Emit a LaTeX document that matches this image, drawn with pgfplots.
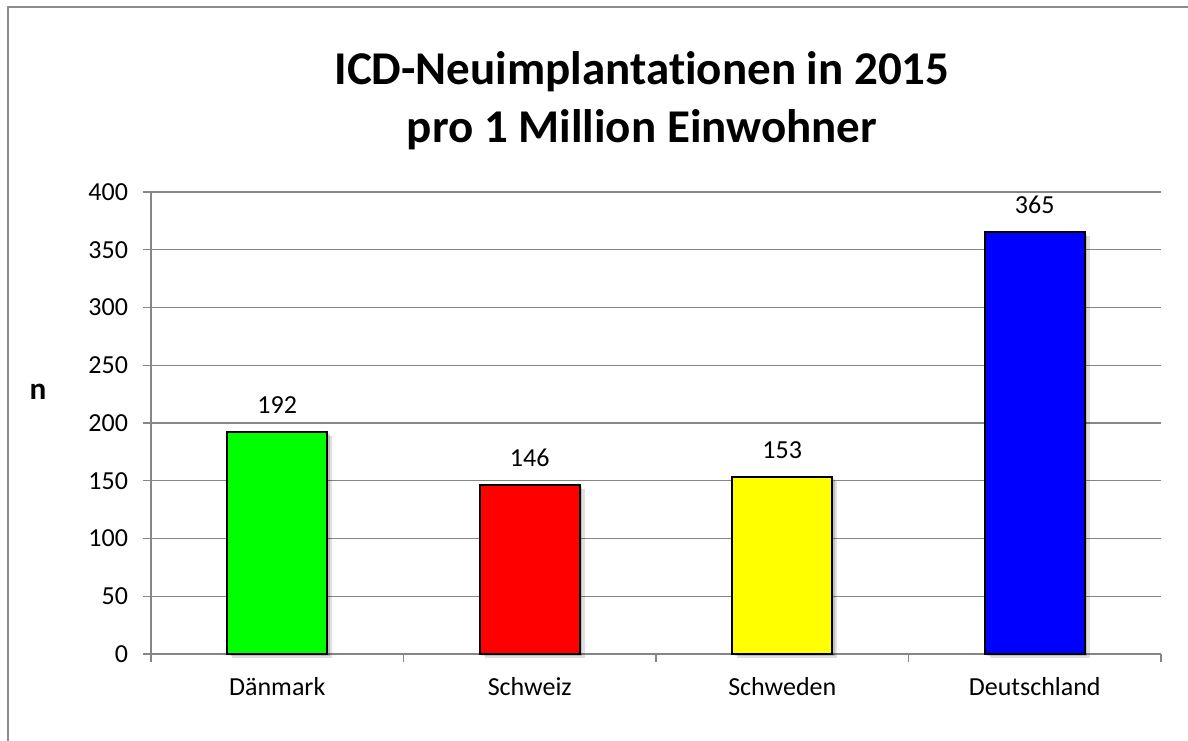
\documentclass[border=0pt]{standalone}
\usepackage{pgfplots}
\pgfplotsset{compat=1.18}
\usepackage{fontspec}
\setmainfont{Carlito}[Ligatures=NoCommon]
\definecolor{gridgray}{RGB}{134,134,134}
\definecolor{framegray}{RGB}{140,140,140}
\begin{document}
\begin{tikzpicture}
\path[use as bounding box] (0,0) rectangle (594pt,370pt);
\draw[framegray, line width=0.8pt] (4pt,-1pt) -- (4pt,366.5pt) -- (595pt,366.5pt);
\node[anchor=base, font=\fontsize{23.5}{28}\bfseries\selectfont] at (321pt,327.5pt) {ICD-Neuimplantationen in 2015};
\node[anchor=base, font=\fontsize{23.5}{28}\bfseries\selectfont] at (321pt,298.5pt) {pro 1 Million Einwohner};
\node[font=\fontsize{15.6}{18}\bfseries\selectfont] at (19pt,174pt) {n};
\begin{axis}[
  at={(75.5pt,43pt)}, anchor=south west,
  scale only axis, width=505pt, height=231pt,
  xmin=-0.5, xmax=3.5, ymin=0, ymax=400,
  axis lines=left, axis line style={-, gridgray, line width=0.7pt},
  ytick={0,50,...,400},
  xtick={0,1,2,3},
  xticklabels={Dänmark,Schweiz,Schweden,Deutschland},
  minor xtick={-0.5,0.5,1.5,2.5,3.5},
  major x tick style={draw=none},
  tick align=outside,
  major tick length=4pt, minor tick length=4pt,
  tick style={gridgray, line width=0.7pt},
  ymajorgrids, grid style={gridgray, line width=0.7pt},
  /pgf/number format/assume math mode=true,
  ticklabel style={font=\fontsize{13}{15}\selectfont},
  yticklabel style={xshift=-4pt},
  xticklabel style={yshift=-4pt},
  ybar, bar width=50pt, bar shift=0pt,
  nodes near coords,
  every node near coord/.append style={font=\fontsize{13}{15}\selectfont, yshift=5.4pt, black},
  every axis plot/.append style={draw=black, line width=1pt,
    preaction={draw=none, fill=black, fill opacity=0.12, transform canvas={xshift=2.5pt,yshift=-2pt}},
    preaction={draw=none, fill=black, fill opacity=0.15, transform canvas={xshift=1.2pt,yshift=-1pt}}},
  clip=false,
]
\addplot[fill={rgb,255:red,0;green,255;blue,0}] coordinates {(0,192)};
\addplot[fill={rgb,255:red,255;green,0;blue,0}] coordinates {(1,146)};
\addplot[fill={rgb,255:red,255;green,255;blue,0}] coordinates {(2,153)};
\addplot[fill={rgb,255:red,0;green,0;blue,255}] coordinates {(3,365)};
\end{axis}
\end{tikzpicture}
\end{document}
